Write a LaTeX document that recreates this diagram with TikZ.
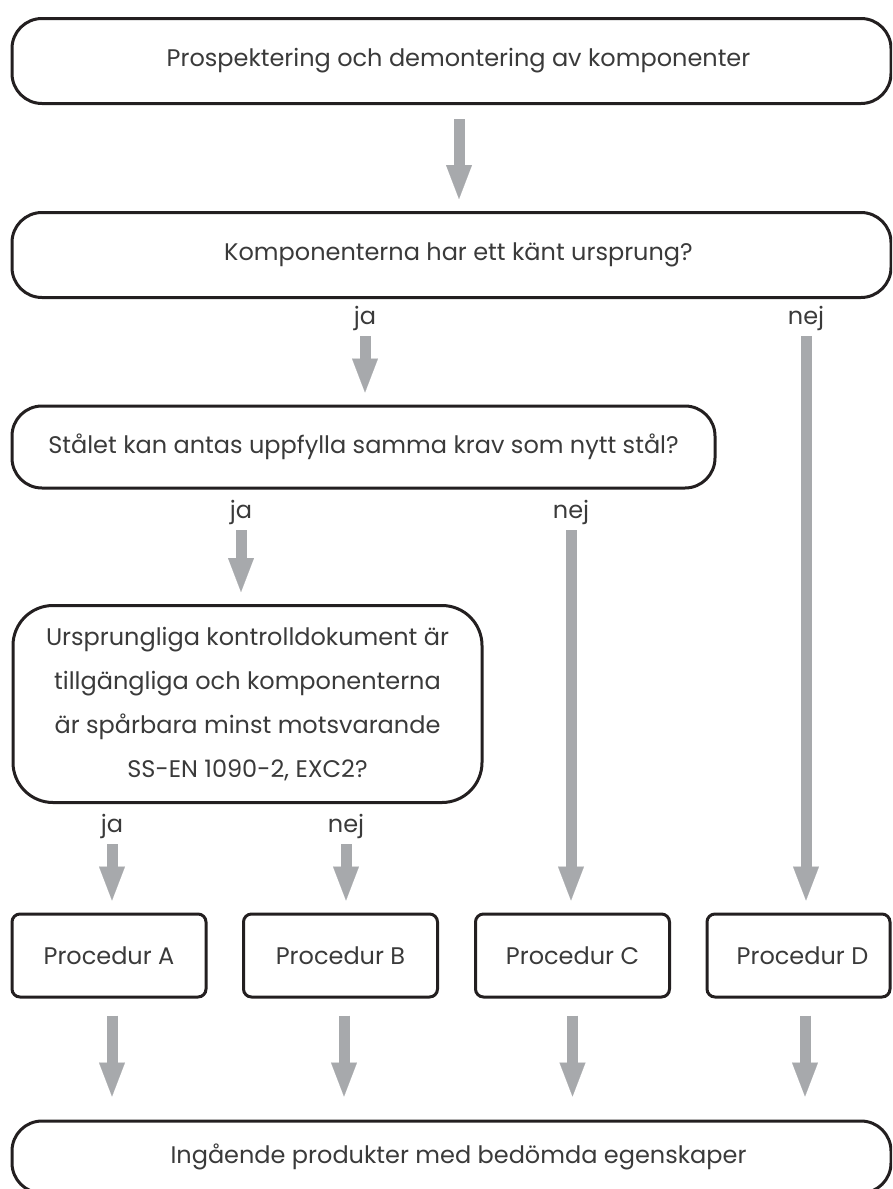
\documentclass[tikz,border=0pt]{standalone}
\usepackage{fontspec}
\setmainfont{Poppins}
\usetikzlibrary{arrows.meta}
\definecolor{textgray}{HTML}{3A3A3A}
\definecolor{linegray}{HTML}{231F20}
\definecolor{arrowgray}{HTML}{A7A9AC}
\begin{document}
\begin{tikzpicture}[x=1pt,y=-1pt,
	every node/.style={font=\fontsize{24}{44}\selectfont,text=textgray},
	bigbox/.style={draw=linegray,line width=3pt,rounded corners=30pt,minimum width=879pt,minimum height=85pt,inner sep=0pt},
	proc/.style={draw=linegray,line width=3pt,rounded corners=8pt,minimum width=194pt,minimum height=83pt,inner sep=0pt},
	answer/.style={inner sep=0pt},
	flow/.style={draw=arrowgray,line width=11pt,shorten <=6pt,shorten >=12pt,-{Triangle[width=26pt,length=34pt,line width=0.1pt]}},
	outflow/.style={flow,shorten <=17pt,shorten >=23pt}]
				\clip (0,0) rectangle (892,1189);
				\node[bigbox] (start) at (451.5,61) {\hspace*{14pt}Prospektering och demontering av komponenter};
				\node[bigbox] (origin) at (451.5,255) {\hspace*{14pt}Komponenterna har ett känt ursprung?};
				\node[bigbox,minimum width=703pt,minimum height=82pt] (steel) at (363.5,447) {Stålet kan antas uppfylla samma krav som nytt stål?};
				\node[bigbox,minimum width=469pt,minimum height=197pt,rounded corners=40pt,align=center] (docs) at (247.5,704) {Ursprungliga kontrolldokument är\\tillgängliga och komponenterna\\är spårbara minst motsvarande\\SS-EN 1090-2, EXC2?};
				\node[proc] (procA) at (109,955.5) {Procedur A};
				\node[proc] (procB) at (340.5,955.5) {Procedur B};
				\node[proc] (procC) at (572.5,955.5) {Procedur C};
				\node[proc,minimum width=183pt] (procD) at (798.5,955.5) {\hspace*{8pt}Procedur D};
				\node[bigbox,minimum height=72pt] (result) at (451.5,1157) {\hspace*{14pt}Ingående produkter med bedömda egenskaper};
				\node[answer] (yes1) at (365,318) {ja};
				\node[answer] (no1) at (806,318) {nej};
				\node[answer] (yes2) at (241,512) {ja};
				\node[answer] (no2) at (571,512) {nej};
				\node[answer] (yes3) at (112,826) {ja};
				\node[answer] (no3) at (346,826) {nej};
				\draw[flow,shorten <=14pt] ([xshift=7.5pt]start.south) -- ([xshift=7.5pt]origin.north);
				\draw[flow] (yes1.south) -- (yes1.south |- steel.north);
				\draw[flow] (no1.south) -- (no1.south |- procD.north);
				\draw[flow] (yes2.south) -- (yes2.south |- docs.north);
				\draw[flow] (no2.south) -- (no2.south |- procC.north);
				\draw[flow] (yes3.south) -- (yes3.south |- procA.north);
				\draw[flow] (no3.south) -- (no3.south |- procB.north);
				\draw[outflow] ([xshift=3pt]procA.south) -- ([xshift=3pt]procA.south |- result.north);
				\draw[outflow] ([xshift=3.5pt]procB.south) -- ([xshift=3.5pt]procB.south |- result.north);
				\draw[outflow] (procC.south) -- (procC.south |- result.north);
				\draw[outflow] ([xshift=6.5pt]procD.south) -- ([xshift=6.5pt]procD.south |- result.north);
			\end{tikzpicture}
\end{document}
